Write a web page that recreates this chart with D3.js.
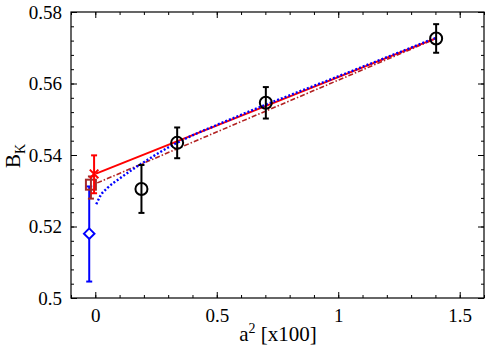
<!DOCTYPE html>
<html>
<head>
<meta charset="utf-8">
<script src="https://d3js.org/d3.v7.min.js"></script>
<style>
  body { margin: 0; background: #fff; }
  text { font-family: "Liberation Serif", "DejaVu Serif", serif; }
</style>
</head>
<body>
<svg id="vis"></svg>
<script>
// lattice points: a^2 [x100], B_K, error
var latX = [0.19, 0.337, 0.702, 1.403];
var latY = [0.5305, 0.5434, 0.5546, 0.5726];
var latErr = [0.0067, 0.0043, 0.0044, 0.0040];

// continuum extrapolations at a^2 = 0 (shifted a little for visibility)
var redPt = {x: -0.005, y: 0.5347, lo: 0.5293, hi: 0.5399};
var brownPt = {x: -0.018, y: 0.5317, lo: 0.5278, hi: 0.5340};
var bluePt = {x: -0.025, y: 0.5180, lo: 0.5046, hi: 0.5312};

// fit lines
var redLineX = [0.003, 1.403];
var redLineY = [0.5348, 0.5727];
var brownLineX = [0.008, 1.403];
var brownLineY = [0.5322, 0.5726];
var blueCurveX = [0.004, 0.02, 0.05, 0.1, 0.15, 0.2, 0.3, 0.4, 0.5, 0.7, 1.0, 1.403];
var blueCurveY = [0.5262, 0.5285, 0.5308, 0.5334, 0.5358, 0.5380, 0.5421, 0.5455, 0.5484, 0.5540, 0.5620, 0.5728];

var xTicks = [0, 0.5, 1, 1.5];
var yTicks = [0.5, 0.52, 0.54, 0.56, 0.58];

var W = 498, H = 349;
var margin = {top: 12, right: 14, bottom: 51, left: 71};
var width = W - margin.left - margin.right,
    height = H - margin.top - margin.bottom;

var svg = d3.select('#vis').attr('width', W).attr('height', H);
var g = svg.append('g').attr('transform', 'translate(' + margin.left + ',' + margin.top + ')');

var x = d3.scaleLinear().domain([-0.1, 1.6]).range([0, width]);
var y = d3.scaleLinear().domain([0.5, 0.58]).range([height, 0]);

// minor ticks
var xMinor = d3.range(-0.1, 1.601, 0.1).map(function(v) { return +v.toFixed(2); });
var yMinor = d3.range(0.5, 0.5801, 0.004).map(function(v) { return +v.toFixed(3); });

function tickStyle(sel) {
  sel.select('.domain').remove();
  sel.selectAll('line').attr('stroke', '#000').attr('stroke-width', 1);
}

// bottom axis
g.append('g').attr('transform', 'translate(0,' + height + ')')
  .call(d3.axisBottom(x).tickValues(xMinor).tickSize(-3).tickFormat(''))
  .call(tickStyle);
g.append('g').attr('transform', 'translate(0,' + height + ')')
  .call(d3.axisBottom(x).tickValues(xTicks).tickSize(-6).tickPadding(11).tickFormat(d3.format('')))
  .call(tickStyle)
  .selectAll('text').attr('font-size', 19).attr('fill', '#000').attr('font-family', 'Liberation Serif');
// top axis
g.append('g').call(d3.axisTop(x).tickValues(xMinor).tickSize(-3).tickFormat('')).call(tickStyle);
g.append('g').call(d3.axisTop(x).tickValues(xTicks).tickSize(-6).tickFormat('')).call(tickStyle);
// left axis
g.append('g').call(d3.axisLeft(y).tickValues(yMinor).tickSize(-3).tickFormat('')).call(tickStyle);
g.append('g')
  .call(d3.axisLeft(y).tickValues(yTicks).tickSize(-6).tickPadding(9).tickFormat(d3.format('')))
  .call(tickStyle)
  .selectAll('text').attr('font-size', 19).attr('fill', '#000').attr('font-family', 'Liberation Serif');
// right axis
g.append('g').attr('transform', 'translate(' + width + ',0)')
  .call(d3.axisRight(y).tickValues(yMinor).tickSize(-3).tickFormat('')).call(tickStyle);
g.append('g').attr('transform', 'translate(' + width + ',0)')
  .call(d3.axisRight(y).tickValues(yTicks).tickSize(-6).tickFormat('')).call(tickStyle);

// frame
g.append('rect').attr('width', width).attr('height', height)
  .attr('fill', 'none').attr('stroke', '#000').attr('stroke-width', 1.2);

var line = d3.line().x(function(d) { return x(d[0]); }).y(function(d) { return y(d[1]); });

// brown dash-dot fit
g.append('path')
  .attr('d', line(d3.zip(brownLineX, brownLineY)))
  .attr('fill', 'none').attr('stroke', '#b22222').attr('stroke-width', 1.6)
  .attr('stroke-dasharray', '5,2,1.5,2');

// red solid fit
g.append('path')
  .attr('d', line(d3.zip(redLineX, redLineY)))
  .attr('fill', 'none').attr('stroke', '#ff0000').attr('stroke-width', 2);

// blue dotted fit
g.append('path')
  .attr('d', line.curve(d3.curveMonotoneX)(d3.zip(blueCurveX, blueCurveY)))
  .attr('fill', 'none').attr('stroke', '#0000ff').attr('stroke-width', 2.4)
  .attr('stroke-dasharray', '2,2');

function errBar(cx, lo, hi, color, w) {
  g.append('line').attr('x1', x(cx)).attr('x2', x(cx)).attr('y1', y(lo)).attr('y2', y(hi))
    .attr('stroke', color).attr('stroke-width', w);
  [lo, hi].forEach(function(v) {
    g.append('line').attr('x1', x(cx) - 3).attr('x2', x(cx) + 3).attr('y1', y(v)).attr('y2', y(v))
      .attr('stroke', color).attr('stroke-width', w);
  });
}

// lattice data
latX.forEach(function(v, i) {
  errBar(v, latY[i] - latErr[i], latY[i] + latErr[i], '#000', 2);
  g.append('circle').attr('cx', x(v)).attr('cy', y(latY[i])).attr('r', 6)
    .attr('fill', 'none').attr('stroke', '#000').attr('stroke-width', 2);
});

// blue diamond
errBar(bluePt.x, bluePt.lo, bluePt.hi, '#0000ff', 2);
g.append('path')
  .attr('d', d3.symbol().type(d3.symbolDiamond2).size(70)())
  .attr('transform', 'translate(' + x(bluePt.x) + ',' + y(bluePt.y) + ')')
  .attr('fill', '#fff').attr('stroke', '#0000ff').attr('stroke-width', 2);

// brown square
errBar(brownPt.x, brownPt.lo, brownPt.hi, '#a52a2a', 2);
g.append('rect')
  .attr('x', x(brownPt.x) - 5).attr('y', y(brownPt.y) - 5).attr('width', 10).attr('height', 10)
  .attr('fill', 'none').attr('stroke', '#a52a2a').attr('stroke-width', 2);

// red cross
errBar(redPt.x, redPt.lo, redPt.hi, '#ff0000', 2);
g.append('path')
  .attr('d', d3.symbol().type(d3.symbolTimes).size(50)())
  .attr('transform', 'translate(' + x(redPt.x) + ',' + y(redPt.y) + ')')
  .attr('fill', 'none').attr('stroke', '#ff0000').attr('stroke-width', 2);

// axis labels
var xl = svg.append('text').attr('x', 278).attr('y', 341).attr('text-anchor', 'middle')
  .attr('font-size', 21).attr('fill', '#000');
xl.append('tspan').text('a');
xl.append('tspan').attr('dy', -8).attr('font-size', 14).text('2');
xl.append('tspan').attr('dy', 8).text(' [x100]');

var yl = svg.append('text').attr('transform', 'translate(20,156) rotate(-90)')
  .attr('text-anchor', 'middle').attr('font-size', 21).attr('fill', '#000');
yl.append('tspan').text('B');
yl.append('tspan').attr('dy', 5).attr('font-size', 14).text('K');
</script>
</body>
</html>
